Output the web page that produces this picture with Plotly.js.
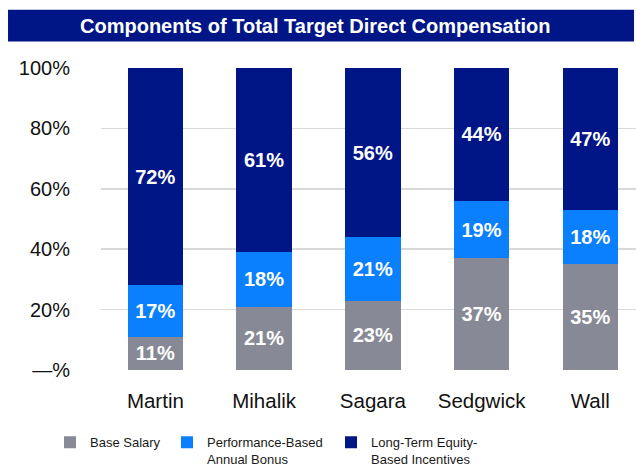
<!DOCTYPE html>
<html>
<head>
<meta charset="utf-8">
<script src="https://cdn.plot.ly/plotly-3.0.1.min.js"></script>
<style>html,body{margin:0;padding:0;background:#fff;}#chart{width:636px;height:469px;}</style>
</head>
<body>
<div id="chart"></div>
<script>
const categories = ["Martin", "Mihalik", "Sagara", "Sedgwick", "Wall"];
const baseSalary = [11, 21, 23, 37, 35];
const annualBonus = [17, 18, 21, 19, 18];
const longTermEquity = [72, 61, 56, 44, 47];
const seriesNames = ["Base Salary", "Performance-Based<br>Annual Bonus", "Long-Term Equity-<br>Based Incentives"];
const yTickVals = [0, 20, 40, 60, 80, 100];
const yTickText = ["\u2014%", "20%", "40%", "60%", "80%", "100%"];
const chartTitle = "Components of Total Target Direct Compensation";

const colors = ["#878a96", "#0a80ff", "#001687"];
const series = [baseSalary, annualBonus, longTermEquity];
const legendIds = ["legend", "legend2", "legend3"];

const traces = series.map((vals, i) => ({
  type: "bar",
  x: categories,
  y: vals,
  name: seriesNames[i],
  legend: legendIds[i],
  showlegend: true,
  marker: {color: colors[i], line: {width: 0}},
  width: 0.51,
  text: vals.map(v => v + "%"),
  textposition: "inside",
  insidetextanchor: "middle",
  textangle: 0,
  constraintext: "none",
  textfont: {family: "Liberation Sans, Arial, sans-serif", size: 20, color: "#ffffff", weight: "bold"},
  hoverinfo: "skip"
}));

const legendBase = {
  orientation: "v",
  yanchor: "top",
  xanchor: "left",
  y: -0.19,
  valign: "top",
  bgcolor: "rgba(0,0,0,0)",
  font: {family: "Liberation Sans, Arial, sans-serif", size: 13, color: "#1a1a1a"},
  tracegroupgap: 0
};

const layout = {
  width: 636,
  height: 469,
  showlegend: true,
  margin: {l: 101, r: 0, t: 67.5, b: 98.5, autoexpand: false},
  paper_bgcolor: "#ffffff",
  plot_bgcolor: "#ffffff",
  barmode: "stack",
  font: {family: "Liberation Sans, Arial, sans-serif"},
  xaxis: {
    range: [-0.5, 4.42],
    showgrid: false,
    zeroline: false,
    showline: false,
    ticks: "",
    automargin: false,
    ticklabelstandoff: 16,
    tickfont: {family: "Liberation Sans, Arial, sans-serif", size: 20.5, color: "#111111"}
  },
  yaxis: {
    range: [0, 100],
    tickvals: yTickVals,
    ticktext: yTickText,
    showgrid: true,
    gridcolor: "#d9d9d9",
    gridwidth: 1.5,
    zeroline: false,
    showline: false,
    ticks: "",
    automargin: false,
    ticklabelstandoff: 30,
    tickfont: {family: "Liberation Sans, Arial, sans-serif", size: 20, color: "#111111"}
  },
  legend: Object.assign({}, legendBase, {x: -0.0953}),
  legend2: Object.assign({}, legendBase, {x: 0.1234}),
  legend3: Object.assign({}, legendBase, {x: 0.4299}),
  shapes: [{
    type: "rect", xref: "paper", yref: "paper",
    x0: -0.1738, x1: 0.9963, y0: 1.0875, y1: 1.193,
    fillcolor: "#001687", line: {width: 0}, layer: "above"
  }],
  annotations: [{
    text: chartTitle,
    xref: "paper", yref: "paper",
    x: 0.400, y: 1.140, xanchor: "center", yanchor: "middle",
    showarrow: false,
    font: {family: "Liberation Sans, Arial, sans-serif", size: 20, color: "#ffffff", weight: "bold"}
  }]
};

Plotly.newPlot("chart", traces, layout, {displayModeBar: false, staticPlot: true});
</script>
</body>
</html>
